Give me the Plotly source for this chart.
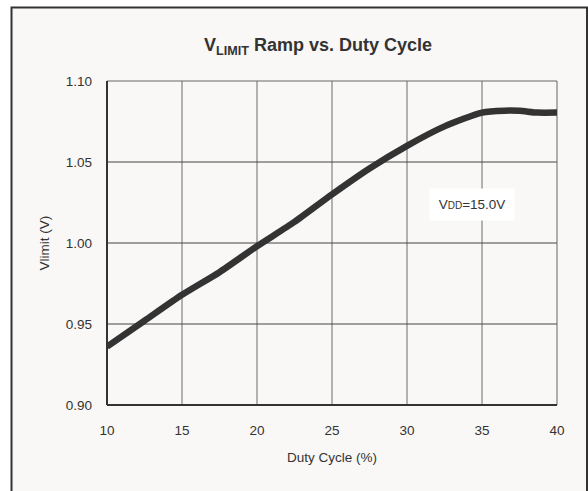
import plotly.graph_objects as go

duty_cycle = [10, 12.5, 15, 17.5, 20, 22.5, 25, 27.5, 30, 32.5, 35, 36.5, 37.5, 38.7, 40]
vlimit = [0.936, 0.952, 0.968, 0.982, 0.998, 1.013, 1.030, 1.046, 1.060, 1.072, 1.0805, 1.0817, 1.0816, 1.0805, 1.0805]
x_ticks = [10, 15, 20, 25, 30, 35, 40]
y_ticks = [0.90, 0.95, 1.00, 1.05, 1.10]

bg = "#f9f8f6"
font_family = "Liberation Sans, Arial, sans-serif"

fig = go.Figure()
fig.add_trace(go.Scatter(x=duty_cycle, y=vlimit, mode="lines",
                         line=dict(color="#333333", width=6.5, shape="spline", smoothing=0.6),
                         showlegend=False, hoverinfo="skip", cliponaxis=True))

shapes = []
# outer border with background fill
shapes.append(dict(type="rect", xref="paper", yref="paper", x0=-0.2122, x1=1.0667, y0=-0.35, y1=1.2269,
                   line=dict(color="#333333", width=2), fillcolor=bg, layer="below"))
# vertical grid lines (lighter gray)
for xv in x_ticks[1:-1]:
    shapes.append(dict(type="line", xref="x", yref="paper", x0=xv, x1=xv, y0=0, y1=1,
                       line=dict(color="#8a8a8a", width=1.3), layer="below"))
for yv in y_ticks[1:-1]:
    shapes.append(dict(type="line", xref="paper", yref="y", x0=0, x1=1, y0=yv, y1=yv,
                       line=dict(color="#444444", width=1), layer="below"))
# plot frame
shapes.append(dict(type="rect", xref="paper", yref="paper", x0=0, x1=1, y0=0, y1=1,
                   line=dict(color="#666666", width=1), layer="below"))
# left/bottom axis lines darker
shapes.append(dict(type="line", xref="paper", yref="paper", x0=0, x1=0, y0=0, y1=1,
                   line=dict(color="#333333", width=2), layer="below"))
shapes.append(dict(type="line", xref="paper", yref="paper", x0=0, x1=1, y0=0, y1=0,
                   line=dict(color="#333333", width=2), layer="below"))

fig.update_layout(
    width=588, height=491,
    margin=dict(l=107, r=31, t=81, b=86),
    paper_bgcolor="white", plot_bgcolor="rgba(0,0,0,0)",
    font=dict(family=font_family, size=13, color="#333333"),
    shapes=shapes,
    xaxis=dict(range=[10, 40], tickvals=x_ticks, ticktext=[str(v) for v in x_ticks],
               showgrid=False, zeroline=False, showline=False, ticks="",
               ticklabelstandoff=15,
               title=dict(text="Duty Cycle (%)", font=dict(size=13.5), standoff=16),
               tickfont=dict(size=13.5)),
    yaxis=dict(range=[0.90, 1.10], tickvals=y_ticks, ticktext=[f"{v:.2f}" for v in y_ticks],
               showgrid=False, zeroline=False, showline=False, ticks="",
               ticklabelstandoff=14,
               title=dict(text="Vlimit (V)", font=dict(size=13.5), standoff=12),
               tickfont=dict(size=13.5)),
    annotations=[
        dict(text="<b>V<sub>LIMIT</sub> Ramp vs. Duty Cycle</b>", xref="paper", yref="paper",
             x=0.469, y=1.108, xanchor="center", yanchor="middle", showarrow=False,
             font=dict(size=18, color="#333333")),
        dict(text="V<span style='font-size:10px'>DD</span>=15.0V", xref="x", yref="y",
             x=34.33, y=1.0238, xanchor="center", yanchor="middle", showarrow=False,
             width=84, height=31, borderpad=0, align="center",
             bgcolor="white", font=dict(size=13.5, color="#333333")),
    ],
)

fig.write_html("out.html", config={"displayModeBar": False},
               post_script="document.body.style.margin='0';document.documentElement.style.overflow='hidden';document.body.style.overflow='hidden';")
